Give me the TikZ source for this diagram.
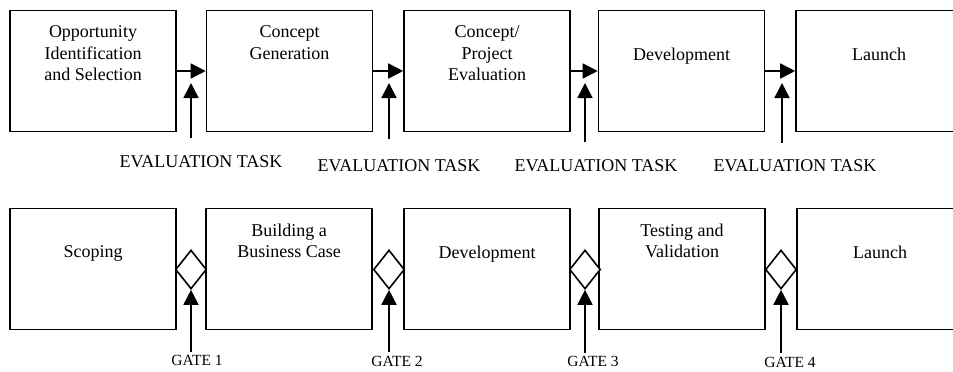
\documentclass[tikz,border=0pt]{standalone}
\usepackage{fontspec}
\setmainfont{Liberation Serif}
\usetikzlibrary{arrows.meta,shapes.geometric,calc}
\tikzset{
  stagebox/.style={draw, line width=1.6pt, minimum width=166pt, minimum height=121pt, inner sep=0pt},
  stagetext/.style={anchor=north, inner sep=0pt, align=center, font=\fontsize{18}{21.5}\selectfont},
  evallabel/.style={anchor=base, inner sep=0pt, font=\fontsize{18}{21.5}\selectfont},
  gatelabel/.style={anchor=base, inner sep=0pt, font=\fontsize{15.5}{18}\selectfont},
  arr/.style={line width=1.6pt, -{Triangle[length=15pt,width=15pt]}},
  gate/.style={draw, diamond, line width=1.6pt, minimum width=31pt, minimum height=39pt, inner sep=0pt, fill=white}
}
\begin{document}
\begin{tikzpicture}[x=1pt,y=-1pt]
\useasboundingbox (0,0) rectangle (953,372);
\clip (0,0) rectangle (953,372);
% top row
\node[stagebox] (t1) at (93,71) {};
\node[stagebox] (t2) at (289.5,71) {};
\node[stagebox] (t3) at (487,71) {};
\node[stagebox] (t4) at (681.5,71) {};
\node[stagebox] (t5) at (879,71) {};
\node[stagetext] (t1txt) at ($(t1.north)+(0,15.7)$) {Opportunity\\Identification\\and Selection};
\node[stagetext] (t2txt) at ($(t2.north)+(0,15.7)$) {Concept\\Generation};
\node[stagetext] (t3txt) at ($(t3.north)+(0,15.7)$) {Concept/\\Project\\Evaluation};
\node[stagetext] (t4txt) at ($(t4.north)+(0,37.7)$) {Development};
\node[stagetext] (t5txt) at ($(t5.north)+(0,37.7)$) {Launch};
\draw[arr] (t1.east) -- (t2.west);
\draw[arr] (t2.east) -- (t3.west);
\draw[arr] (t3.east) -- (t4.west);
\draw[arr] (t4.east) -- (t5.west);
\coordinate (e1s) at (191,138); \coordinate (e1t) at (191,83);
\coordinate (e2s) at (389,139); \coordinate (e2t) at (389,83);
\coordinate (e3s) at (585,142); \coordinate (e3t) at (585,83);
\coordinate (e4s) at (782,143); \coordinate (e4t) at (782,83);
\draw[arr] (e1s) -- (e1t);
\draw[arr] (e2s) -- (e2t);
\draw[arr] (e3s) -- (e3t);
\draw[arr] (e4s) -- (e4t);
\node[evallabel] (l1) at (201,167) {EVALUATION TASK};
\node[evallabel] (l2) at (399,171) {EVALUATION TASK};
\node[evallabel] (l3) at (596,171) {EVALUATION TASK};
\node[evallabel] (l4) at (795,171) {EVALUATION TASK};
% bottom row
\node[stagebox] (b1) at (93,269) {};
\node[stagebox] (b2) at (289,269) {};
\node[stagebox] (b3) at (487,269) {};
\node[stagebox] (b4) at (682,269) {};
\node[stagebox] (b5) at (880,269) {};
\node[stagetext] (b1txt) at ($(b1.north)+(0,37.7)$) {Scoping};
\node[stagetext] (b2txt) at ($(b2.north)+(0,15.7)$) {Building a\\Business Case};
\node[stagetext] (b3txt) at ($(b3.north)+(0,37.7)$) {Development};
\node[stagetext] (b4txt) at ($(b4.north)+(0,15.7)$) {Testing and\\Validation};
\node[stagetext] (b5txt) at ($(b5.north)+(0,37.7)$) {Launch};
\node[gate] (d1) at (191,269.5) {};
\node[gate] (d2) at (389,269.5) {};
\node[gate] (d3) at (585,269.5) {};
\node[gate] (d4) at (781,269.5) {};
\coordinate (g1s) at (191,352);
\coordinate (g2s) at (389,352);
\coordinate (g3s) at (585,353);
\coordinate (g4s) at (781,353);
\draw[arr] (g1s) -- (d1.south);
\draw[arr] (g2s) -- (d2.south);
\draw[arr] (g3s) -- (d3.south);
\draw[arr] (g4s) -- (d4.south);
\node[gatelabel] (gl1) at (197,365) {GATE 1};
\node[gatelabel] (gl2) at (397,366) {GATE 2};
\node[gatelabel] (gl3) at (593,366) {GATE 3};
\node[gatelabel] (gl4) at (790,367) {GATE 4};
\end{tikzpicture}
\end{document}
